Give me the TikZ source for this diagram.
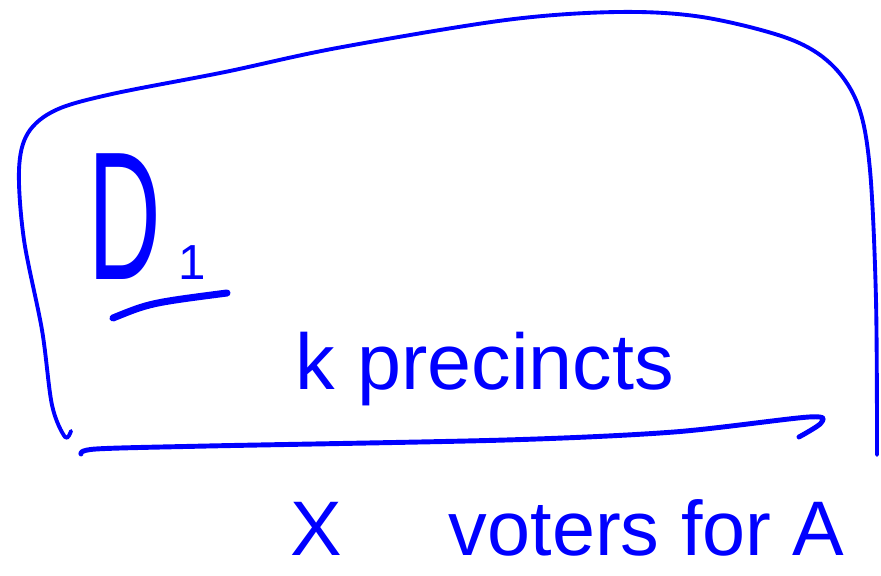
\documentclass[tikz,border=0pt]{standalone}
\usepackage{fontspec}
\setmainfont{Liberation Sans}
\usepackage{tikz}

\begin{document}
\begin{tikzpicture}[x=0.01cm,y=-0.01cm,line cap=round,line join=round]
  \useasboundingbox (0,0) rectangle (881,576);
  \draw[blue,line width=1.1pt] plot[smooth,tension=0.55] coordinates {(71,431) (65,437) (52,405) (42,330) (24,240) (19,170) (28,133) (56,110) (112,94) (225,72) (337,48) (506,20) (618,12) (702,17) (787,38) (831,64) (858,105) (870,170) (876,300) (877,455)};
  \draw[blue,line width=1.4pt] plot[smooth,tension=0.5] coordinates {(81,454) (96,449) (208,446) (506,440) (674,432) (809,417) (821,423) (799,437)};
  \node[blue,anchor=base west,inner sep=0pt,font=\fontsize{52}{58}\selectfont] (dOne) at (88,280) {\scalebox{0.55}[1]{D}\kern5pt{\fontsize{14}{14}\selectfont 1}};
  \draw[blue,line width=2pt] (113,318) .. controls (150,303) .. (227,293);
  \node[blue,anchor=base west,inner sep=0pt,font=\fontsize{22.5}{27}\selectfont] (precincts) at (295,390) {k precincts};
  \node[blue,anchor=base west,inner sep=0pt,font=\fontsize{22}{26}\selectfont] (voters) at (290,556) {X\hspace{1.1em} voters for A};
\end{tikzpicture}
\end{document}
